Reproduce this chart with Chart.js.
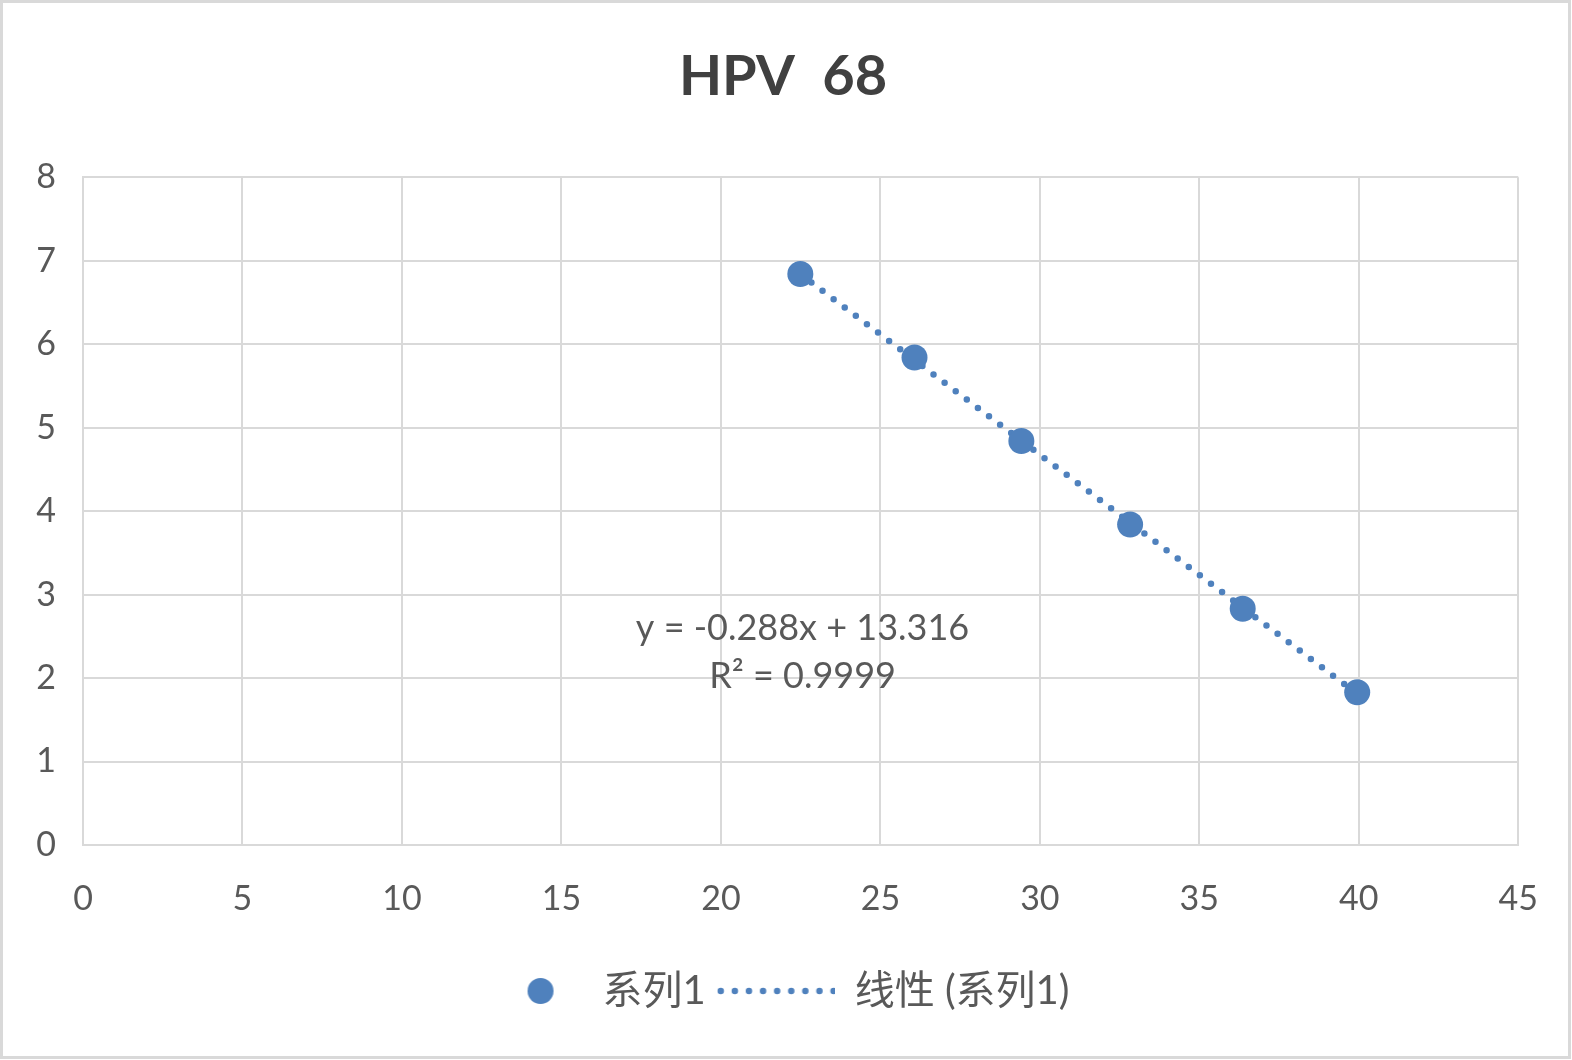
<!DOCTYPE html>
<html>
<head>
<meta charset="utf-8">
<script src="https://cdn.jsdelivr.net/npm/chart.js@4"></script>
<style>
html,body{margin:0;padding:0;background:#fff;}
#wrap{position:relative;width:1572px;height:1060px;overflow:hidden;}
#c{position:absolute;left:0;top:0;}
#frame{position:absolute;left:0;top:0;width:1571px;height:1059px;box-sizing:border-box;border:3px solid #d9d9d9;pointer-events:none;}
</style>
</head>
<body>
<div id="wrap">
<canvas id="c" width="1572" height="1060"></canvas>
<div id="frame"></div>
</div>
<script>
// ---- data ----
const chartTitle = 'HPV  68';
const seriesName = '系列1';
const trendName = '线性 (系列1)';
const ctValues = [22.49, 26.07, 29.42, 32.83, 36.36, 39.95];
const logValues = [6.84, 5.84, 4.84, 3.84, 2.83, 1.83];
const trendX = [22.49, 39.95];
const trendY = [6.84, 1.81];
const equationLines = ['y = -0.288x + 13.316', 'R² = 0.9999'];
const equationAnchor = [22.56, 2.59]; // x, y in data units
const xTicks = [0, 5, 10, 15, 20, 25, 30, 35, 40, 45];
const yTicks = [0, 1, 2, 3, 4, 5, 6, 7, 8];

const BLUE = '#4F81BD';
const TEXT = '#595959';
const GRID = '#d9d9d9';
const FONT = "Lato, 'Noto Sans CJK SC', sans-serif";

const scatterPts = ctValues.map((x, i) => ({x, y: logValues[i]}));
const trendPts = trendX.map((x, i) => ({x, y: trendY[i]}));

// legend symbol canvases
const BOXW = 118;
function markerCanvas() {
  const c = document.createElement('canvas');
  c.width = 160; c.height = 30;
  const g = c.getContext('2d');
  g.fillStyle = BLUE;
  g.beginPath(); g.arc(80 + 17, 15, 13, 0, Math.PI * 2); g.fill();
  return c;
}
function dottedCanvas() {
  const c = document.createElement('canvas');
  c.width = BOXW; c.height = 12;
  const g = c.getContext('2d');
  g.strokeStyle = BLUE; g.lineWidth = 6.5; g.lineCap = 'round';
  g.setLineDash([0, 14.1]);
  g.beginPath(); g.moveTo(4, 6); g.lineTo(BOXW - 1, 6); g.stroke();
  return c;
}
const legendSymbols = [markerCanvas(), dottedCanvas()];

const equationPlugin = {
  id: 'equation',
  afterLayout(chart) {
    // shift legend block slightly left, as in the reference
    const lg = chart.legend;
    if (lg) { lg.left -= 16; lg.right -= 16; }
  },
  afterDatasetsDraw(chart) {
    const {ctx, scales} = chart;
    const px = scales.x.getPixelForValue(equationAnchor[0]);
    const py = scales.y.getPixelForValue(equationAnchor[1]);
    ctx.save();
    ctx.fillStyle = TEXT;
    ctx.font = '36px ' + FONT;
    ctx.textAlign = 'center';
    ctx.textBaseline = 'middle';
    equationLines.forEach((t, i) => ctx.fillText(t, px, py + i * 48));
    ctx.restore();
  }
};

new Chart(document.getElementById('c'), {
  type: 'scatter',
  data: {
    datasets: [
      {
        label: seriesName,
        data: scatterPts,
        backgroundColor: BLUE,
        borderColor: BLUE,
        pointRadius: 13,
        pointHoverRadius: 13,
        pointBorderWidth: 0,
        pointStyle: 'circle'
      },
      {
        label: trendName,
        type: 'line',
        data: trendPts,
        showLine: true,
        borderColor: BLUE,
        backgroundColor: BLUE,
        borderWidth: 6.5,
        borderDash: [0, 13.9],
        borderCapStyle: 'round',
        pointRadius: 0,
        fill: false
      }
    ]
  },
  options: {
    responsive: false,
    animation: false,
    devicePixelRatio: 1,
    layout: {padding: {left: 0, right: 6, top: 43, bottom: 39}},
    plugins: {
      tooltip: {enabled: false},
      title: {
        display: true,
        text: chartTitle,
        color: '#404040',
        font: {family: FONT, size: 56, weight: 'bold'},
        padding: {top: 0, bottom: 67}
      },
      legend: {
        position: 'bottom',
        labels: {
          usePointStyle: true,
          pointStyleWidth: BOXW,
          color: TEXT,
          font: {family: FONT, size: 40},
          padding: 11,
          generateLabels(chart) {
            return chart.data.datasets.map((ds, i) => ({
              text: ds.label,
              pointStyle: legendSymbols[i],
              fillStyle: BLUE,
              strokeStyle: BLUE,
              lineWidth: 0,
              fontColor: TEXT,
              hidden: false,
              datasetIndex: i
            }));
          }
        }
      }
    },
    scales: {
      x: {
        type: 'linear',
        min: 0, max: 45,
        afterBuildTicks(s) { s.ticks = xTicks.map(v => ({value: v})); },
        afterFit(s) { s.height = 115; },
        grid: {color: GRID, lineWidth: 2, drawTicks: false},
        border: {color: GRID, width: 2},
        ticks: {color: TEXT, font: {family: FONT, size: 34}, padding: 34, maxRotation: 0}
      },
      y: {
        type: 'linear',
        min: 0, max: 8,
        afterBuildTicks(s) { s.ticks = yTicks.map(v => ({value: v})); },
        afterFit(s) { s.width = 83; },
        grid: {color: GRID, lineWidth: 2, drawTicks: false},
        border: {color: GRID, width: 2},
        ticks: {color: TEXT, font: {family: FONT, size: 34}, padding: 27}
      },
      yRightSpace: {
        type: 'linear',
        position: 'right',
        display: true,
        min: 0, max: 8,
        afterFit(s) { s.width = 47; },
        grid: {display: false, drawOnChartArea: false},
        border: {display: false},
        ticks: {display: false}
      }
    }
  },
  plugins: [equationPlugin]
});
</script>
</body>
</html>
